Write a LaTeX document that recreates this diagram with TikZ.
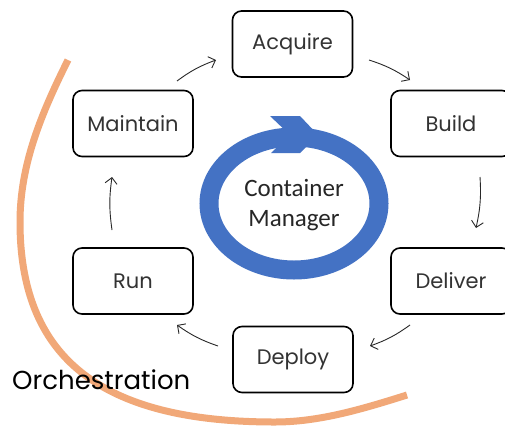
\documentclass[tikz,border=0pt]{standalone}
\usepackage{fontspec}
\setmainfont{Poppins}
\newfontfamily\cmfont{Carlito}
\usetikzlibrary{arrows.meta}
\definecolor{orch}{RGB}{241,168,120}
\definecolor{ringblue}{RGB}{68,114,196}
\definecolor{arr}{RGB}{40,40,40}
\tikzset{
  stepbox/.style={draw=black, line width=1.6pt, rounded corners=9pt, minimum width=120pt, minimum height=66pt, inner sep=0pt, font=\fontsize{21}{25}\selectfont, text=black!80},
  flow/.style={draw=arr, line width=0.9pt, -{Straight Barb[length=6pt,width=12pt]}, bend left=8}
}
\begin{document}
\begin{tikzpicture}[x=1pt,y=-1pt]
\clip (0,0) rectangle (505,426);
\fill[white] (0,0) rectangle (505,426);
% orchestration arc
\draw[orch, line width=7pt, line cap=butt]
  (68,60) .. controls (41,114) and (20,165) .. (20,222)
          .. controls (20,365) and (110,422) .. (275,422)
          .. controls (320,422) and (364,408.5) .. (407,395);
\node[font=\fontsize{26}{30}\selectfont, text=black, anchor=west, inner sep=0pt] (orchlabel) at (12,380) {Orchestration};
% ring
\draw[ringblue, line width=19pt] (294,203.5) ellipse [x radius=85, y radius=66.5];
\fill[ringblue] (270,116) -- (300,116) -- (318,135) -- (300,153) -- (271,153) -- (290,135) -- cycle;
\node[font=\cmfont\fontsize{25}{30}\selectfont, text=black!85, align=center] (cm) at (294,205) {Container\\Manager};
% boxes
\node[stepbox] (acquire) at (292.5,44) {Acquire};
\node[stepbox] (build) at (451,123.5) {Build};
\node[stepbox] (deliver) at (451,281) {Deliver};
\node[stepbox] (deploy) at (293,359.5) {Deploy};
\node[stepbox] (run) at (133,281) {Run};
\node[stepbox] (maintain) at (133,123.5) {Maintain};
% arrow ends
\coordinate (m1) at (177,81);   \coordinate (a1) at (216,60);
\coordinate (a2) at (369,60);   \coordinate (b1) at (410,80);
\coordinate (b2) at (480,177);  \coordinate (d1) at (476,228);
\coordinate (d2) at (410,325);  \coordinate (p1) at (370,346);
\coordinate (p2) at (218,346);  \coordinate (r1) at (177,325);
\coordinate (r2) at (112,230);  \coordinate (t1) at (112,177);
\draw[flow] (m1) to (a1);
\draw[flow] (a2) to (b1);
\draw[flow] (b2) to (d1);
\draw[flow] (d2) to (p1);
\draw[flow] (p2) to (r1);
\draw[flow] (r2) to (t1);
\end{tikzpicture}
\end{document}
